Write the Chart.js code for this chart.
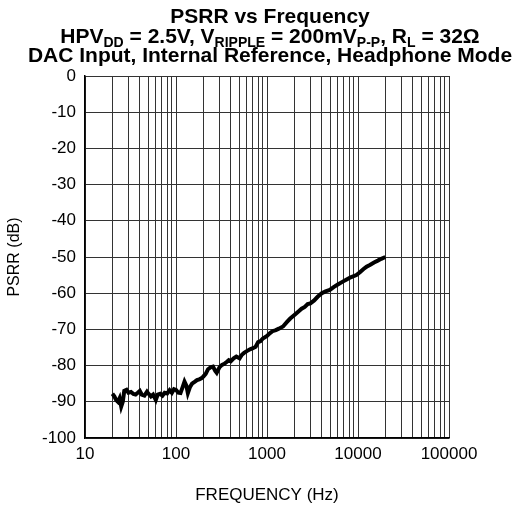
<!DOCTYPE html>
<html lang="en">
<head>
  <meta charset="UTF-8" />
  <title>PSRR vs Frequency</title>
  <style>
    body { margin: 0; background: #fff; }
    #wrap { width: 518px; height: 512px; position: relative; }
  </style>
</head>
<body>
  <div id="wrap"><canvas id="psrrChart" width="518" height="512"></canvas></div>

  <script src="https://cdn.jsdelivr.net/npm/chart.js"></script>
  <script>
    // data
    const freqHz = [20, 21, 22, 23, 24, 25, 26, 27, 28.6, 30, 32, 34, 36, 38, 40, 42, 45, 48, 50, 53, 56, 60, 63, 67, 71, 75, 80, 85, 90, 95,
      100, 106, 112, 118, 124, 130, 135, 142, 150, 160, 170, 180, 190, 200, 212, 225, 240, 255, 270, 280, 300, 320, 340, 360, 380, 400, 430, 460,
      500, 530, 560, 600, 650, 700, 750, 800, 850, 900, 1000, 1080, 1150, 1250, 1350, 1500, 1650, 1800, 2000, 2200, 2400, 2600, 2800, 3000,
      3300, 3600, 4000, 4400, 4900, 5400, 6000, 6800, 7500, 8300, 9600, 10500, 11500, 12400, 13500, 15000, 16500, 18000, 20000];
    const psrrDb = [-87.8, -88.5, -89.5, -90, -89, -91.3, -90, -87, -86.7, -87.5, -87.3, -87.8, -88, -87.5, -87, -88, -88.3, -87.2, -87.8, -88.5, -88, -89.5, -88, -87.8, -88.3, -87.5, -87.7, -86.8, -87.5, -86.5,
      -86.7, -87.5, -87.6, -86, -84.4, -85.5, -87.6, -86, -85, -84.5, -84, -83.8, -83.5, -83, -82.3, -81, -80.5, -80.3, -81.5, -82, -80.5, -79.8, -79.5, -79, -78.5, -78.8, -78, -77.5,
      -78, -77, -76.5, -76, -75.5, -75.2, -74.8, -73.5, -73.2, -72.5, -71.8, -71, -70.5, -70.2, -69.8, -69.2, -68, -67, -66, -65.1, -64.3, -63.8, -63, -62.8,
      -62, -61, -60, -59.5, -59.1, -58.3, -57.6, -56.8, -56.2, -55.6, -55, -54.2, -53.3, -52.7, -52.2, -51.5, -51, -50.5, -50];
    const xTickLabels = [10, 100, 1000, 10000, 100000];

    // title lines, split in runs so the subscripts can be drawn smaller
    const titleLines = [
      [{ t: 'PSRR vs Frequency' }],
      [{ t: 'HPV' }, { t: 'DD', sub: true }, { t: ' = 2.5V, V' }, { t: 'RIPPLE', sub: true }, { t: ' = 200mV' }, { t: 'P-P', sub: true },
       { t: ', R' }, { t: 'L', sub: true }, { t: ' = 32\u03a9' }],
      [{ t: 'DAC Input, Internal Reference, Headphone Mode' }]
    ];

    const FONT = '"Liberation Sans", Arial, sans-serif';

    const titlePlugin = {
      id: 'subTitle',
      afterDraw(chart) {
        const ctx = chart.ctx;
        const cx = 270;
        const baselines = [23, 43, 62];
        ctx.save();
        ctx.fillStyle = '#000';
        ctx.textBaseline = 'alphabetic';
        ctx.textAlign = 'left';
        titleLines.forEach((runs, i) => {
          let w = 0;
          runs.forEach(r => {
            ctx.font = r.sub ? 'bold 14px ' + FONT : 'bold 21px ' + FONT;
            r.w = ctx.measureText(r.t).width;
            w += r.w;
          });
          let x = cx - w / 2;
          runs.forEach(r => {
            ctx.font = r.sub ? 'bold 14px ' + FONT : 'bold 21px ' + FONT;
            ctx.fillText(r.t, x, baselines[i] + (r.sub ? 4 : 0));
            x += r.w;
          });
        });
        ctx.restore();
      }
    };

    const gridTicks = [];
    for (let p = 10; p < 100000; p *= 10) {
      for (let k = 1; k < 10; k++) gridTicks.push({ value: k * p });
    }
    gridTicks.push({ value: 100000 });

    new Chart(document.getElementById('psrrChart'), {
      type: 'line',
      data: {
        datasets: [{
          data: freqHz.map((f, i) => ({ x: f, y: psrrDb[i] })),
          borderColor: '#000',
          borderWidth: 4,
          pointRadius: 0,
          tension: 0,
          fill: false
        }]
      },
      options: {
        responsive: false,
        animation: false,
        layout: { padding: { left: 0, top: 76, right: 69, bottom: 0 } },
        plugins: { legend: { display: false }, tooltip: { enabled: false } },
        scales: {
          x: {
            type: 'logarithmic',
            min: 10,
            max: 100000,
            afterBuildTicks: s => { s.ticks = gridTicks.map(t => ({ value: t.value })); },
            afterFit: s => { s.height = 74; },
            grid: { color: '#333', lineWidth: 1, drawTicks: false },
            border: { color: '#000', width: 1.5 },
            ticks: {
              autoSkip: false,
              maxRotation: 0,
              padding: 6,
              color: '#000',
              font: { family: FONT, size: 17 },
              callback: v => xTickLabels.includes(v) ? String(v) : ''
            },
            title: { display: true, text: 'FREQUENCY (Hz)', color: '#000', font: { family: FONT, size: 17 }, padding: { top: 0, bottom: 6 } }
          },
          y: {
            min: -100,
            max: 0,
            afterFit: s => { s.width = 85; },
            grid: { color: '#333', lineWidth: 1, drawTicks: false },
            border: { color: '#000', width: 1.5 },
            ticks: {
              stepSize: 10,
              padding: 9,
              color: '#000',
              font: { family: FONT, size: 17 }
            },
            title: { display: true, text: 'PSRR (dB)', color: '#000', font: { family: FONT, size: 16 }, padding: { top: 5, bottom: 0 } }
          }
        }
      },
      plugins: [titlePlugin]
    });
  </script>
</body>
</html>
